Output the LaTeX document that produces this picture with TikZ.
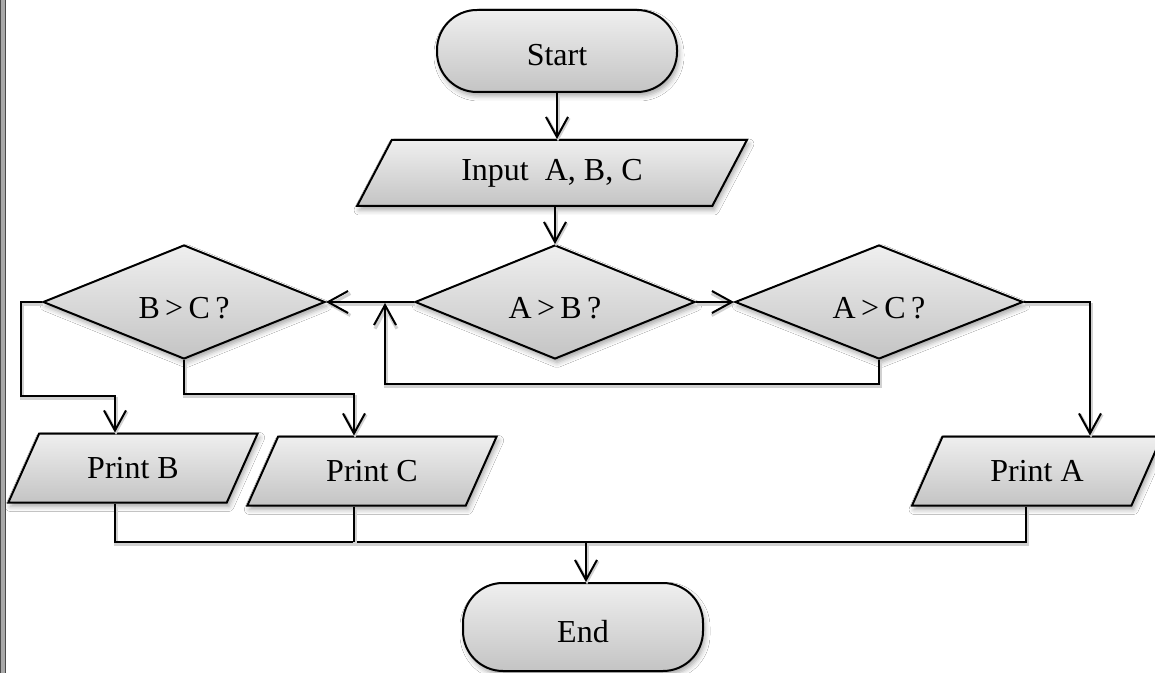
\documentclass[tikz,border=0pt]{standalone}
\usepackage{fontspec}
\setmainfont{Liberation Serif}
\usetikzlibrary{arrows.meta,shapes.geometric,shadows.blur}
\definecolor{boxtop}{HTML}{EFEFEF}
\definecolor{boxbot}{HTML}{C4C4C4}
\definecolor{rim}{HTML}{4A4A4A}
\definecolor{edgegray}{HTML}{A8A8A8}
\tikzset{
  box/.style={draw=black, line width=1pt, top color=boxtop, bottom color=boxbot,
    blur shadow={shadow xshift=1pt, shadow yshift=-2pt, shadow blur radius=2.5pt, shadow opacity=35},
    font=\fontsize{16pt}{19pt}\selectfont, inner sep=0pt},
  terminal/.style={box, rectangle, rounded corners=20pt, minimum width=120pt,
    text height=15pt, text depth=0pt},
  decision/.style={box, diamond, aspect=2.5, minimum height=57pt,
    text height=16.5pt, text depth=0pt},
  io/.style={box, trapezium, trapezium left angle=55, trapezium right angle=125,
    trapezium stretches=true, minimum width=125pt, minimum height=34.5pt},
  link/.style={line width=1pt, draw=black,
    preaction={draw=black!18, line width=1.6pt, transform canvas={shift={(0.5pt,-1.2pt)}}}},
  arr/.style={link, -{Straight Barb[length=10pt,width=11pt]}},
}
\begin{document}
\begin{tikzpicture}[x=0.5pt,y=-0.5pt]
  \useasboundingbox[fill=white] (0,0) rectangle (1155,673);
  \clip (0,0) rectangle (1155,673);
  % page edge on the left
  \fill[edgegray] (0,0) rectangle (6,673);
  \draw[rim, line width=0.65pt] (0.7,0) -- (0.7,673) (5.2,0) -- (5.2,673);

  % blocks
  \node[terminal, minimum height=41pt] (start) at (557,51) {Start};
  \node[io, minimum width=195pt, minimum height=33pt] (input) at (552,173) {Input\ \ A, B, C};
  \node[decision, minimum width=140pt] (ab) at (555,302) {A\,>\,B\,?};
  \node[decision, minimum width=144pt] (ac) at (879,302) {A\,>\,C\,?};
  \node[decision, minimum width=141pt] (bc) at (184,302) {B\,>\,C\,?};
  \node[io] (pb) at (133,468) {Print B};
  \node[io] (pc) at (372,471) {Print C};
  \node[io] (pa) at (1037,471) {Print A};
  \node[terminal, minimum height=44pt] (end) at (583,627) {End};

  % connector points
  \coordinate (loopcorner) at (385,384);
  \coordinate (loopin) at (385,303);
  \coordinate (bcleft) at (21,396);
  \coordinate (pbin) at ([xshift=-9pt]pb.center);
  \coordinate (pcin) at ([xshift=-9pt]pc.center);
  \coordinate (pain) at ([xshift=26.5pt]pa.center);
  \coordinate (paout) at ([xshift=-5.5pt]pa.center);
  \coordinate (merge) at (586,542);

  % connectors
  \draw[arr] (start.south) -- (start.south |- input.north);
  \draw[arr] (ab.north |- input.south) -- (ab.north);
  \draw[arr] (ab.east) -- (ac.west);
  \draw[arr] (ab.west) -- (bc.east);
  \draw[arr] (ac.south) |- (loopcorner) -- (loopin);
  \draw[arr] (bc.west) -| (bcleft) -| (pbin |- pb.north);
  \draw[arr] (bc.south) -- ++(0,34) -| (pcin |- pc.north);
  \draw[arr] (ac.east) -| (pain |- pa.north);
  \draw[link] (pbin |- pb.south) |- (merge) -| (paout |- pa.south);
  \draw[link] (pcin |- pc.south) -- (pcin |- merge);
  \draw[arr] (merge) -- (merge |- end.north);
\end{tikzpicture}
\end{document}
